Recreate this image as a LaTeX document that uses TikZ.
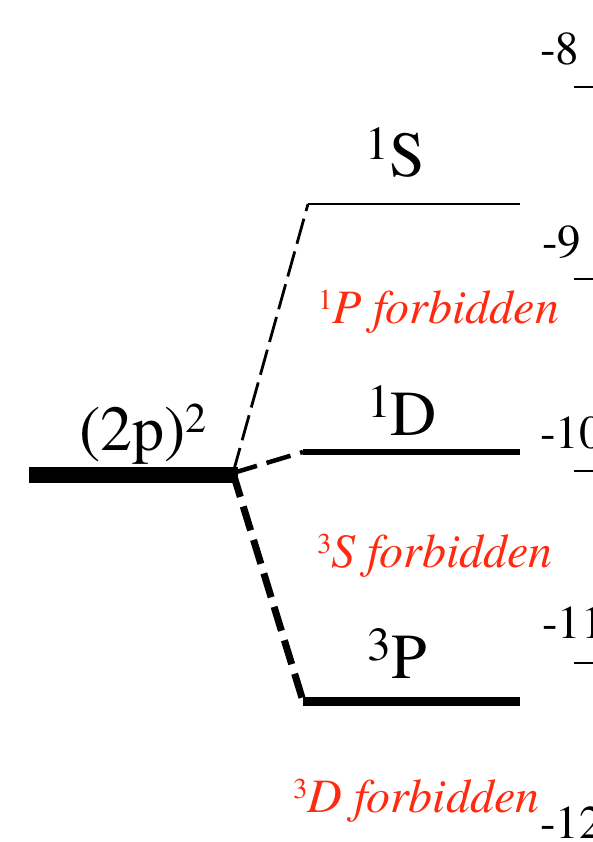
\documentclass[tikz,border=0pt]{standalone}
\usepackage{fontspec}
\usepackage{graphicx}
\setmainfont{texgyretermes}[Extension=.otf,UprightFont=*-regular,ItalicFont=*-italic,BoldFont=*-bold]
\definecolor{forbid}{RGB}{255,42,15}
\newcommand{\hi}[2][0.74]{\raisebox{0.28em}{\scalebox{#1}{#2}}}

\begin{document}
\begin{tikzpicture}[x=1pt,y=-1pt,line cap=butt]
\tikzset{term/.style={font=\fontsize{64}{70}\selectfont,inner sep=0pt,anchor=base},
  ev/.style={font=\fontsize{47}{52}\selectfont,inner sep=0pt,anchor=base west},
  forb/.style={font=\fontsize{48}{56}\selectfont\itshape,text=forbid,inner sep=0pt,anchor=base west},
  dsh/.style={dash pattern=on 25pt off 10pt}}
\useasboundingbox (0,0) rectangle (592,842);
% energy levels
\coordinate (confL) at (29,475); \coordinate (confR) at (238,475); \coordinate (j) at (233,473);
\coordinate (SL) at (308,204); \coordinate (SR) at (520,204);
\coordinate (DL) at (303,452); \coordinate (DR) at (520,452);
\coordinate (PL) at (303,701); \coordinate (PR) at (520,701);
\draw[line width=16pt] (confL)--(confR);
\draw[line width=2.5pt] (SL)--(SR); \draw[line width=5.5pt] (DL)--(DR); \draw[line width=9pt] (PL)--(PR);
\draw[line width=2.8pt,dash pattern=on 26pt off 8pt] (j)--(SL);
\draw[line width=4.5pt,dsh] (j)--(DL);
\draw[line width=7pt,dsh] (j)--(PL);
\node[term] (conf) at (143,450) {(2p)\hi[0.66]{2}};
\node[term] (S) at (395,177) {\hi{1}S};
\node[term] (D) at (402,435) {\hi{1}D};
\node[term] (P) at (397,678) {\hi{3}P};
\node[forb] (noP) at (318,323) {\hi[0.6]{\upshape 1}P forbidden};
\node[forb] (noS) at (317,567) {\hi[0.6]{\upshape 3}S forbidden};
\node[forb] (noD) at (293,812) {\hi[0.6]{\upshape 3}D forbidden};
% energy scale (eV)
\foreach \e/\ty/\lx/\ly in {8/87/540/65,9/279/542/257,10/471/540/448,11/663/542/638,12/855/540/838}{
  \draw[line width=2.5pt] (574,\ty)--(600,\ty);
  \node[ev] (e\e) at (\lx,\ly) {-\e};}
\end{tikzpicture}
\end{document}
